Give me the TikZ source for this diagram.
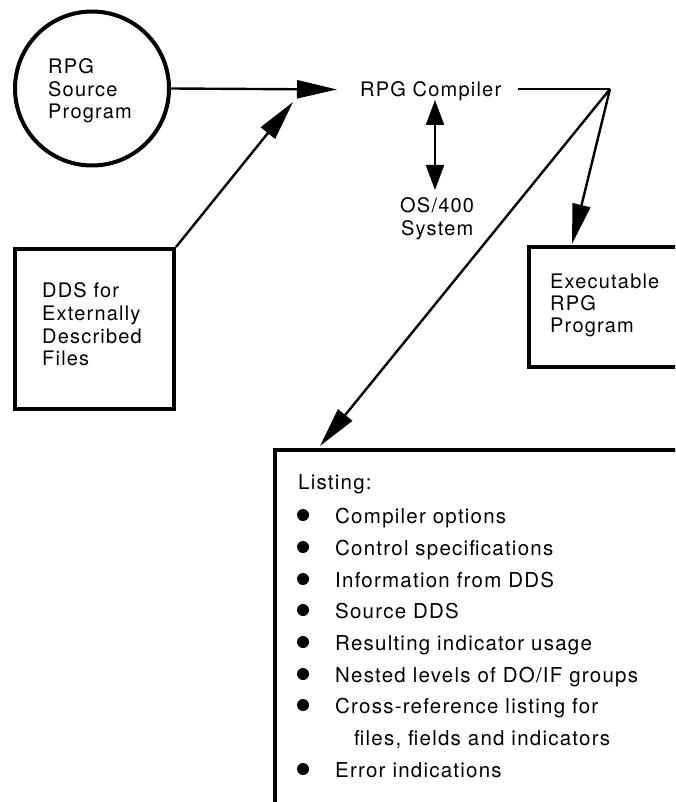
\documentclass[tikz,border=0pt]{standalone}
\usepackage{fontspec}
\setmainfont{TeX Gyre Heros}[LetterSpace=6]
\usetikzlibrary{arrows.meta}
\begin{document}
\begin{tikzpicture}[x=1pt,y=-1pt,
  txt/.style={inner sep=0pt, anchor=base west, font=\fontsize{20}{24}\selectfont},
  ltxt/.style={inner sep=0pt, anchor=base west, font=\fontsize{20.5}{24}\selectfont},
  thickbox/.style={draw, line width=4pt, rectangle, inner sep=0pt, anchor=north west},
  conn/.style={line width=2.4pt},
  bigtip/.style={-{Triangle[length=40pt,width=18pt]}},
  dbltip/.style={{Triangle[length=25pt,width=18pt]}-{Triangle[length=25pt,width=18pt]}},
  dot/.style={circle, fill, inner sep=0pt, minimum size=12pt}]
\useasboundingbox (0,0) rectangle (675,802);
\clip (0,0) rectangle (675,802);
% source program circle
\node[circle, draw, line width=4pt, minimum size=154pt, inner sep=0pt] (src) at (92,88.5) {};
\node[txt] (s1) at (48,74) {RPG};
\node[txt] (s2) at (48,96.5) {Source};
\node[txt] (s3) at (48,118.5) {Program};
% DDS box
\node[thickbox, minimum width=159pt, minimum height=160pt] (dds) at (13,247) {};
\node[txt] (d1) at (42,297) {DDS for};
\node[txt] (d2) at (42,320) {Externally};
\node[txt] (d3) at (42,343) {Described};
\node[txt] (d4) at (42,365) {Files};
% compiler
\node[txt] (comp) at (360,97) {RPG Compiler};
\coordinate (cin) at (337,89.5);
\coordinate (ddsin) at (293,102);
\coordinate (cout) at (518,89);
\coordinate (j) at (610,89);
% OS/400
\node[txt] (os1) at (400,212) {OS/400};
\node[txt] (os2) at (401,235) {System};
\coordinate (osup) at (435,100);
\coordinate (osdn) at (435,190);
% executable box
\node[thickbox, minimum width=220pt, minimum height=120pt] (exe) at (527,245) {};
\node[txt] (e1) at (550,288) {Executable};
\node[txt] (e2) at (550,310) {RPG};
\node[txt] (e3) at (550,332) {Program};
\coordinate (exein) at (572,244);
% listing box
\node[thickbox, minimum width=500pt, minimum height=500pt] (lst) at (273,448) {};
\coordinate (lstin) at (320,446);
\node[ltxt] (lt) at (298,489) {Listing:};
\node[dot] (b1) at (303,515) {};
\node[ltxt] (l1) at (335,523) {Compiler options};
\node[dot] (b2) at (303,547) {};
\node[ltxt] (l2) at (335,555) {Control specifications};
\node[dot] (b3) at (303,579) {};
\node[ltxt] (l3) at (335,587) {Information from DDS};
\node[dot] (b4) at (303,610) {};
\node[ltxt] (l4) at (335,618) {Source DDS};
\node[dot] (b5) at (303,642) {};
\node[ltxt] (l5) at (335,650) {Resulting indicator usage};
\node[dot] (b6) at (303,674) {};
\node[ltxt] (l6) at (335,682) {Nested levels of DO/IF groups};
\node[dot] (b7) at (303,705) {};
\node[ltxt] (l7) at (335,713) {Cross-reference listing for};
\node[ltxt] (l7b) at (354,745) {files, fields and indicators};
\node[dot] (b8) at (303,769) {};
\node[ltxt] (l8) at (335,777) {Error indications};
% connectors
\draw[conn, bigtip] (src.east) -- (cin);
\draw[conn, bigtip] (dds.north east) -- (ddsin);
\draw[conn, dbltip] (osup) -- (osdn);
\draw[conn] (cout) -- (j);
\draw[conn, bigtip] (j) -- (exein);
\draw[conn, bigtip] (j) -- (lstin);
\end{tikzpicture}
\end{document}
